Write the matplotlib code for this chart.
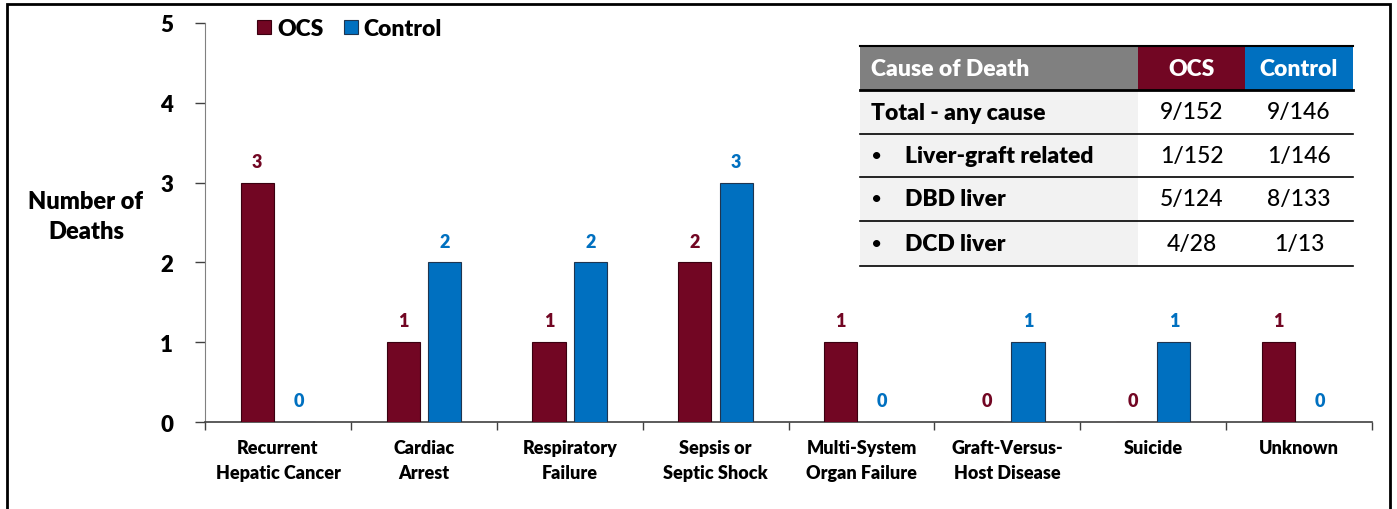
import matplotlib
matplotlib.use("Agg")
import matplotlib.pyplot as plt
from matplotlib.patches import Rectangle

# ---- data ----
categories = ["Recurrent\nHepatic Cancer", "Cardiac\nArrest", "Respiratory\nFailure",
              "Sepsis or\nSeptic Shock", "Multi-System\nOrgan Failure",
              "Graft-Versus-\nHost Disease", "Suicide", "Unknown"]
ocs_deaths = [3, 1, 1, 2, 1, 0, 0, 1]
control_deaths = [0, 2, 2, 3, 0, 1, 1, 0]
series_names = ["OCS", "Control"]

table_header = ["Cause of Death", "OCS", "Control"]
table_rows = ["Total - any cause", "Liver-graft related", "DBD liver", "DCD liver"]
table_bullet = [False, True, True, True]
table_ocs = ["9/152", "1/152", "5/124", "4/28"]
table_control = ["9/146", "1/146", "8/133", "1/13"]

# ---- styling ----
OCS_COLOR = "#720623"
CTRL_COLOR = "#0070C0"
HEADER_GREY = "#808080"
ROW_GREY = "#F2F2F2"
FONT = ["Lato", "DejaVu Sans"]
HEAVY = "heavy"

W, H = 1397, 510
fig = plt.figure(figsize=(W / 100, H / 100), dpi=100)


def fx(px):
    return px / W


def fy(py):
    return 1 - py / H


# outer frame
fig.add_artist(Rectangle((fx(7), fy(560)), fx(1390) - fx(7), fy(5) - fy(560),
                         transform=fig.transFigure, fill=False, lw=2, ec="black"))

ax_l, ax_r, ax_t, ax_b = 205, 1372, 24, 423
ax = fig.add_axes([fx(ax_l), fy(ax_b), fx(ax_r) - fx(ax_l), fy(ax_t) - fy(ax_b)])

x = list(range(len(categories)))
bw = 0.227
off = 0.142
ax.bar([i - off for i in x], ocs_deaths, bw, color=OCS_COLOR, edgecolor="#3a0010", lw=0.8,
       label=series_names[0], zorder=3)
ax.bar([i + off for i in x], control_deaths, bw, color=CTRL_COLOR, edgecolor="#1f3550", lw=0.8,
       label=series_names[1], zorder=3)

for i in x:
    ax.text(i - off, ocs_deaths[i] + 0.16, str(ocs_deaths[i]), ha="center", va="bottom",
            color=OCS_COLOR, fontsize=13, fontweight=HEAVY, family=FONT)
    ax.text(i + off, control_deaths[i] + 0.16, str(control_deaths[i]), ha="center", va="bottom",
            color=CTRL_COLOR, fontsize=13, fontweight=HEAVY, family=FONT)

ax.set_xlim(-0.5, len(categories) - 0.5)
ax.set_ylim(0, 5)
ax.set_yticks(range(0, 6))
ax.set_yticklabels([str(v) for v in range(0, 6)], fontsize=16, fontweight=HEAVY, family=FONT)
ax.set_xticks(x)
ax.set_xticklabels(categories, fontsize=13, fontweight=HEAVY, family=FONT, linespacing=1.6)
ax.tick_params(axis="x", which="major", length=0, pad=12)
ax.set_xticks([i - 0.5 for i in range(len(categories) + 1)], minor=True)
ax.tick_params(axis="x", which="minor", length=6, color="#404040", width=1)
ax.tick_params(axis="y", length=7, color="#404040", width=1, pad=16)
for s in ["top", "right"]:
    ax.spines[s].set_visible(False)
ax.spines["left"].set_color("#808080")
ax.spines["bottom"].set_color("#404040")
ax.spines["bottom"].set_linewidth(1.2)

fig.text(fx(86), fy(217), "Number of\nDeaths", ha="center", va="center", fontsize=17,
         fontweight=HEAVY, family=FONT, linespacing=1.45)

# legend
handles, labels = ax.get_legend_handles_labels()
ax.legend(handles, labels, loc="upper left", bbox_to_anchor=(fx(257), fy(19)),
          bbox_transform=fig.transFigure, ncol=2, frameon=False, handlelength=0.62,
          handleheight=0.62, handletextpad=0.25, columnspacing=0.9, borderpad=0,
          borderaxespad=0, prop={"family": FONT, "weight": HEAVY, "size": 16.5})

# ---- summary table ----
tl, tc1, tc2, tr = 860, 1138, 1245, 1353
row_edges = [47, 91, 135, 178, 222, 267]
TS = 16.5


def rect(x0, y0, x1, y1, color):
    fig.add_artist(Rectangle((fx(x0), fy(y1)), fx(x1) - fx(x0), fy(y0) - fy(y1),
                             transform=fig.transFigure, color=color, lw=0, zorder=5))


def hline(y, lw):
    fig.add_artist(plt.Line2D([fx(tl), fx(tr)], [fy(y), fy(y)], transform=fig.transFigure,
                              color="black", lw=lw, zorder=6))


rect(tl, row_edges[0], tc1, row_edges[1], HEADER_GREY)
rect(tc1, row_edges[0], tc2, row_edges[1], OCS_COLOR)
rect(tc2, row_edges[0], tr, row_edges[1], CTRL_COLOR)
rect(tl, row_edges[1], tc1, row_edges[-1], ROW_GREY)
rect(tc1, row_edges[1], tr, row_edges[-1], "white")

hy = (row_edges[0] + row_edges[1]) / 2
fig.text(fx(tl + 11), fy(hy), table_header[0], ha="left", va="center", color="white",
         fontsize=TS, fontweight=HEAVY, family=FONT, zorder=7)
fig.text(fx((tc1 + tc2) / 2), fy(hy), table_header[1], ha="center", va="center", color="white",
         fontsize=TS, fontweight=HEAVY, family=FONT, zorder=7)
fig.text(fx((tc2 + tr) / 2), fy(hy), table_header[2], ha="center", va="center", color="white",
         fontsize=TS, fontweight=HEAVY, family=FONT, zorder=7)

for k, name in enumerate(table_rows):
    cy = (row_edges[k + 1] + row_edges[k + 2]) / 2
    if table_bullet[k]:
        fig.text(fx(tl + 11), fy(cy), "\u2022", ha="left", va="center", fontsize=14,
                 family=FONT, zorder=7)
        fig.text(fx(tl + 45), fy(cy), name, ha="left", va="center", fontsize=TS,
                 fontweight=HEAVY, family=FONT, zorder=7)
    else:
        fig.text(fx(tl + 11), fy(cy), name, ha="left", va="center", fontsize=TS,
                 fontweight=HEAVY, family=FONT, zorder=7)
    fig.text(fx((tc1 + tc2) / 2), fy(cy), table_ocs[k], ha="center", va="center", fontsize=TS,
             fontweight="medium", family=FONT, zorder=7)
    fig.text(fx((tc2 + tr) / 2), fy(cy), table_control[k], ha="center", va="center", fontsize=TS,
             fontweight="medium", family=FONT, zorder=7)

hline(row_edges[0], 1.5)
hline(row_edges[1], 2.0)
for yy in row_edges[2:]:
    hline(yy, 1.2)

fig.savefig("out.png", dpi=100)
